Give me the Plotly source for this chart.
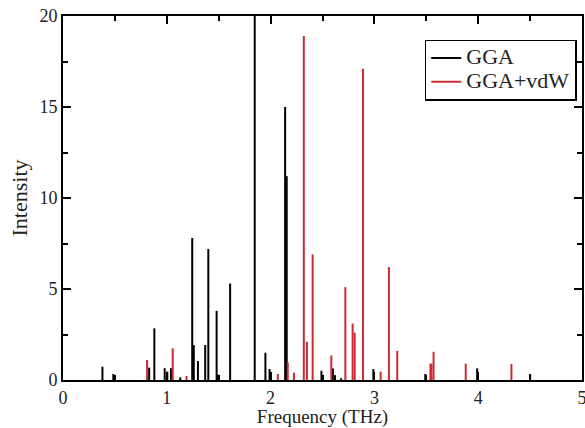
import plotly.graph_objects as go

# GGA stick spectrum (frequency in THz, intensity)
gga_freq = [0.38, 0.485, 0.83, 0.88, 0.98, 1.005, 1.04, 1.13, 1.245, 1.26, 1.30, 1.37, 1.40,
            1.48, 1.49, 1.61, 1.847, 1.95, 1.99, 2.14, 2.155, 2.49, 2.60, 2.62, 2.68, 2.99,
            3.49, 3.99, 4.50]
gga_int = [0.73, 0.33, 0.68, 2.84, 0.65, 0.46, 0.65, 0.15, 7.8, 1.92, 1.04, 1.92, 7.2,
           3.8, 0.3, 5.3, 21.0, 1.5, 0.6, 15.0, 11.2, 0.51, 0.64, 0.27, 0.1, 0.6,
           0.33, 0.64, 0.33]

# GGA+vdW stick spectrum
vdw_freq = [0.81, 1.057, 1.19, 2.07, 2.165, 2.225, 2.32, 2.35, 2.405, 2.585, 2.72, 2.79,
            2.81, 2.89, 3.06, 3.14, 3.22, 3.54, 3.55, 3.57, 3.88, 4.32]
vdw_int = [1.1, 1.74, 0.22, 0.33, 0.97, 0.4, 18.9, 2.1, 6.9, 1.35, 5.1, 3.1,
           2.6, 17.1, 0.46, 6.2, 1.6, 0.9, 0.9, 1.55, 0.9, 0.88]

x_ticks = [0, 1, 2, 3, 4, 5]
y_ticks = [0, 5, 10, 15, 20]

RED = "#cf2a33"
FONT = "Liberation Serif"


def sticks(freq, inten):
    xs, ys = [], []
    for f, h in zip(freq, inten):
        xs += [f, f, None]
        ys += [0, h, None]
    return xs, ys


fig = go.Figure()
gx, gy = sticks(gga_freq, gga_int)
vx, vy = sticks(vdw_freq, vdw_int)
fig.add_trace(go.Scatter(x=gx, y=gy, mode="lines",
                         name="<span style='font-size:22px'>GGA</span>",
                         line=dict(color="black", width=2)))
fig.add_trace(go.Scatter(x=vx, y=vy, mode="lines",
                         name="<span style='font-size:22px'>GGA+vdW</span>",
                         line=dict(color=RED, width=2)))

axis_common = dict(
    showline=True, linecolor="black", linewidth=2, mirror="ticks",
    ticks="inside", ticklen=8, tickwidth=2, tickcolor="black",
    showgrid=False, zeroline=False, automargin=False,
    ticklabeloverflow="allow",
    tickfont=dict(family=FONT, size=18, color="#222"),
)

fig.update_xaxes(range=[0, 5], tickvals=x_ticks,
                 minor=dict(ticks="inside", ticklen=5, tickwidth=2, dtick=0.5, tickcolor="black"),
                 title=dict(text="Frequency (THz)", font=dict(family=FONT, size=19, color="#222"),
                            standoff=5),
                 **axis_common)
fig.update_yaxes(range=[0, 20], tickvals=y_ticks,
                 minor=dict(ticks="inside", ticklen=5, tickwidth=2, dtick=2.5, tickcolor="black"),
                 title=dict(text="Intensity", font=dict(family=FONT, size=22, color="#222"),
                            standoff=6),
                 **axis_common)

fig.update_layout(
    width=585, height=428,
    margin=dict(l=63, r=3, t=16, b=48),
    paper_bgcolor="white", plot_bgcolor="white",
    font=dict(family=FONT, color="#222"),
    legend=dict(x=0.697, y=0.935, xanchor="left", yanchor="top",
                bordercolor="black", borderwidth=1.5, bgcolor="white",
                font=dict(family=FONT, size=16, color="#222"),
                tracegroupgap=0),
)

fig.write_html("out.html")
